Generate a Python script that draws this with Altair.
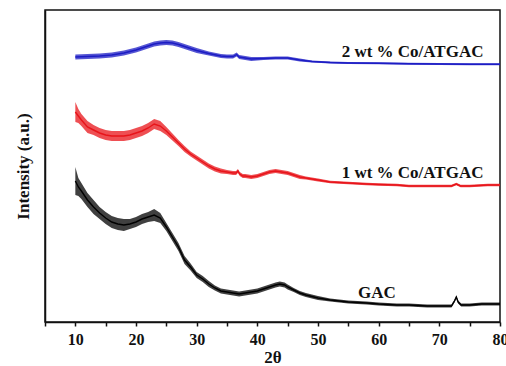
import altair as alt
import pandas as pd

# XRD patterns (2θ in degrees, intensity in arbitrary units, offset stacked)
gac_theta = [10, 10.5, 11, 12, 13, 14, 15, 16, 17, 18, 19, 20, 21, 22, 23, 24, 25, 26,
             27, 28, 29, 30, 31, 32, 33, 34, 35, 36, 37, 38, 39, 40, 41, 42, 43, 43.7,
             44.5, 45, 46, 47, 48, 50, 52, 55, 58, 60, 63, 65, 68, 70, 72, 72.5, 72.8,
             73.1, 73.6, 75, 77, 80]
gac_int = [141, 135, 131, 122, 115, 109, 104, 100, 98, 97, 98, 100, 103, 105, 107, 104,
           95, 85, 75, 62, 55, 47, 43, 38, 34, 31, 30, 29, 28, 29, 30, 31, 33, 35, 37,
           38, 37, 35, 32, 29, 27, 24, 22, 20, 19, 18, 17, 17, 16, 16, 16, 21, 25, 20,
           17, 17, 18, 18]
gac_noise = [14, 9, 8, 7, 7, 6, 6, 6, 6, 6, 5, 5, 5, 5, 6, 5, 4, 4, 4, 4, 3.5, 3, 3, 3,
             2.5, 2.5, 2.5, 2.5, 2.5, 2.5, 2.5, 2.5, 2.5, 2.5, 2.5, 2.5, 2.5, 2.5, 2, 2,
             2, 2, 1.5, 1.5, 1.5, 1.5, 1.5, 1.5, 1.5, 1.5, 1.5, 1.5, 1.5, 1.5, 1.5, 1.5,
             1.5, 1.5]

co1_theta = [10, 10.5, 11, 12, 13, 14, 15, 16, 17, 18, 19, 20, 21, 22, 23, 24, 25, 26,
             27, 28, 29, 30, 31, 32, 33, 34, 35, 36, 36.5, 36.8, 37.1, 37.6, 38, 39, 40,
             41, 42, 43, 44, 45, 46, 47, 48, 50, 52, 55, 58, 60, 63, 65, 68, 70, 72,
             72.8, 73.5, 75, 78, 80]
co1_int = [210, 206, 202, 195, 192, 189, 187, 186, 186, 186, 187, 189, 191, 194, 198,
           196, 191, 185, 179, 173, 168, 164, 160, 156, 153, 151, 150, 149, 149, 151,
           148, 146, 146, 145, 146, 148, 150, 151, 150, 149, 147, 145, 144, 142, 140,
           139, 138, 137.5, 137, 136, 136, 136, 136, 138, 136, 136, 137, 137]
co1_noise = [10, 7, 6, 6, 5, 5, 5, 5, 5, 5, 5, 5, 5, 5, 5, 5, 4, 3.5, 3, 3, 2.5, 2.5,
             2.5, 2.5, 2.5, 2.5, 2, 2, 2, 2, 2, 2, 2, 2, 2, 2, 2, 2, 2, 2, 2, 2, 1.5,
             1.5, 1.2, 1.2, 1.2, 1.2, 1.2, 1.2, 1.2, 1.2, 1.2, 1.2, 1.2, 1.2, 1.2, 1.2]

co2_theta = [10, 12, 14, 16, 18, 20, 22, 23, 24, 25, 26, 27, 28, 30, 32, 34, 35, 36,
             36.6, 37, 38, 39, 41, 43, 45, 47, 49, 52, 55, 60, 65, 70, 75, 80]
co2_int = [265, 265.5, 266, 267, 269, 272, 276, 278, 279, 279.5, 279, 277.5, 275.5,
           271.5, 268.5, 266, 265.5, 265.5, 267.5, 265, 264, 263, 263.5, 264, 264, 262,
           260.5, 259.5, 259, 258.7, 258.2, 258, 257.8, 257.7]
co2_noise = [2.5, 2.5, 2.5, 2.5, 2.5, 2.5, 2.5, 2.5, 2.5, 2.5, 2.5, 2.5, 2.5, 2.5, 2,
             2, 2, 2, 2, 2, 2, 2, 1.5, 1.5, 1.5, 1.5, 1, 1, 1, 1, 1, 1, 1, 1]

series_names = ["GAC", "1 wt % Co/ATGAC", "2 wt % Co/ATGAC"]
series_colors = ["#000000", "#e8141a", "#1c1cc4"]

# Axis ticks: every 5 degrees, labelled every 10
tick_values = [5, 10, 15, 20, 25, 30, 35, 40, 45, 50, 55, 60, 65, 70, 75, 80]

# Curve labels: anchor position in data coordinates
label_text = ["2 wt % Co/ATGAC", "1 wt % Co/ATGAC", "GAC"]
label_theta = [53.9, 53.9, 56.6]
label_int = [270, 149, 29]

frames = []
for name, th, iy, nz in [
    (series_names[0], gac_theta, gac_int, gac_noise),
    (series_names[1], co1_theta, co1_int, co1_noise),
    (series_names[2], co2_theta, co2_int, co2_noise),
]:
    d = pd.DataFrame({"theta": th, "intensity": iy, "noise": nz})
    d["lo"] = d["intensity"] - d["noise"]
    d["hi"] = d["intensity"] + d["noise"]
    d["series"] = name
    frames.append(d)
data = pd.concat(frames, ignore_index=True)

labels = pd.DataFrame({"text": label_text, "theta": label_theta, "intensity": label_int})

SERIF = "Liberation Serif"

x_scale = alt.Scale(domain=[5, 80], nice=False, zero=False)
y_scale = alt.Scale(domain=[0, 312], nice=False, zero=False)
color = alt.Color("series:N", scale=alt.Scale(domain=series_names, range=series_colors),
                  legend=None)

x_axis = alt.Axis(
    title="2θ",
    values=tick_values,
    labelExpr="datum.value % 10 == 0 ? format(datum.value, 'd') : ''",
    tickSize=4,
    tickColor="#111111",
    tickWidth=1.5,
    domainColor="#111111",
    domainWidth=1.5,
    labelFont=SERIF,
    labelFontWeight="bold",
    labelFontSize=16,
    labelColor="#111111",
    labelPadding=5,
    labelOverlap=False,
    labelFlush=False,
    titleFont=SERIF,
    titleFontWeight="bold",
    titleFontSize=17,
    titleColor="#111111",
    titlePadding=2,
    grid=False,
)
y_axis = alt.Axis(
    title="Intensity (a.u.)",
    labels=False,
    ticks=False,
    domainColor="#111111",
    domainWidth=1.5,
    titleFont=SERIF,
    titleFontWeight="bold",
    titleFontSize=17,
    titleColor="#111111",
    titlePadding=13,
    grid=False,
)

base = alt.Chart(data)

band = base.mark_area(opacity=0.75, interpolate="linear").encode(
    x=alt.X("theta:Q", scale=x_scale, axis=x_axis),
    y=alt.Y("lo:Q", scale=y_scale, axis=y_axis),
    y2="hi:Q",
    color=color,
    detail="series:N",
)

line = base.mark_line(strokeWidth=1.4).encode(
    x=alt.X("theta:Q", scale=x_scale, axis=x_axis),
    y=alt.Y("intensity:Q", scale=y_scale, axis=y_axis),
    color=color,
    detail="series:N",
)

text = alt.Chart(labels).mark_text(
    align="left", baseline="middle", font=SERIF, fontWeight="bold", fontSize=17,
    color="#111111",
).encode(
    x=alt.X("theta:Q", scale=x_scale, axis=x_axis),
    y=alt.Y("intensity:Q", scale=y_scale, axis=y_axis),
    text="text:N",
)

chart = (
    alt.layer(band, line, text)
    .properties(
        width=455,
        height=312,
        autosize=alt.AutoSizeParams(type="none"),
        padding={"left": 45, "top": 10, "right": 6, "bottom": 44},
        background="white",
    )
    .configure_view(stroke="#111111", strokeWidth=1.5)
)

chart.save("out.html", embed_options={"renderer": "svg", "actions": False})
